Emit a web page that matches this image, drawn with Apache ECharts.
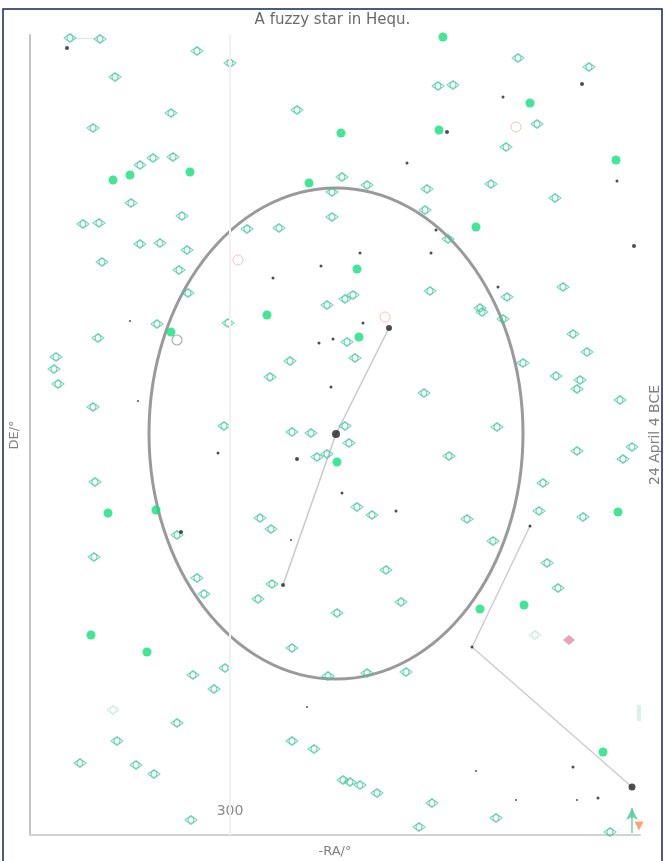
<!DOCTYPE html>
<html>
<head>
<meta charset="utf-8">
<title>A fuzzy star in Hequ.</title>
<script src="https://cdn.jsdelivr.net/npm/echarts@6/dist/echarts.min.js"></script>
<style>
  html, body { margin: 0; padding: 0; background: #ffffff; }
  #chart { width: 665px; height: 861px; }
</style>
</head>
<body>
<div id="chart"></div>
<script>
// Field stars around the guest star, plotted as [-RA, DE] in axis units.
const faintStars = [
  [140,797],[170,796],[267,784],[300,772],[185,758],[367,725],[241,722],[163,707],
  [210,670],[223,677],[243,678],[412,658],[201,632],[252,619],[153,611],[169,612],
  [402,618],[402,643],[210,591],[230,592],[257,585],[317,606],[349,607],[172,573],
  [249,565],[258,542],[397,530],[588,777],[659,768],[508,749],[523,750],[607,711],
  [576,688],[437,650],[497,646],[561,651],[625,637],[495,625],[518,596],[500,544],
  [577,538],[633,548],[415,536],[423,540],[550,527],[298,512],[227,511],[168,497],
  [126,478],[124,466],[128,451],[360,474],[340,458],[163,428],[294,409],[362,403],
  [381,402],[387,378],[397,381],[165,353],[330,317],[341,306],[247,300],[164,278],
  [267,257],[417,493],[425,477],[494,442],[552,523],[573,516],[643,501],[657,483],
  [593,472],[626,459],[650,455],[647,446],[690,435],[415,409],[567,408],[419,392],
  [702,388],[693,376],[647,384],[519,379],[613,352],[427,328],[442,320],[537,316],
  [609,324],[653,318],[563,294],[617,272],[456,265],[274,241],[342,251],[328,236],
  [407,222],[362,187],[295,167],[263,160],[284,146],[398,159],[247,112],[187,94],
  [362,94],[384,86],[150,72],[206,70],[224,61],[413,55],[261,15],[628,247],
  [471,233],[437,162],[476,163],[420,53],[430,50],[447,42],[502,32],[566,17],
  [489,8],[680,3]
];
const dimStars = [[605,200],[183,125]];
const brightStars = [
  [513,798],[600,732],[411,702],[509,705],[686,675],[183,655],[200,660],[260,663],
  [379,652],[546,608],[427,566],[337,520],[241,503],[429,498],[407,373],[178,322],
  [226,325],[688,323],[161,200],[217,183],[550,226],[594,230],[673,83]
];
// [-RA, DE, marker size]
const darkStars = [
  [137,787,4],[652,751,4],[573,738,3],[517,703,4],[477,672,3],[687,654,3],[506,605,3],
  [704,589,4],[430,582,3],[501,582,3],[391,569,3],[343,557,3],[568,548,3],[200,514,2],
  [433,512,3],[459,507,6],[403,496,3],[389,492,3],[401,448,3],[208,434,2],[406,401,8],
  [288,382,3],[367,376,4],[412,342,3],[466,324,3],[251,303,4],[361,295,2],[600,309,3],
  [353,250,4],[377,128,2],[546,64,2],[643,68,3],[702,48,7],[586,35,2],[647,35,2],
  [668,37,3],[542,188,3]
];
const pinkRings = [[455,518],[586,708],[308,575]];
const greyRings = [[247,495]];
const pinkStars = [[639,195]];
const orangeStars = [[709,9]];
const greenArrowShaft = [[702,2],[702,27]];
const greenArrowHead = [[702,27]];
const tealBar = [[709,122]];
// Asterism strokes
const lineA = [[459,507],[406,401],[353,250]];
const lineB = [[600,309],[542,188],[702,48]];
const lineC = [[140,797],[170,796]];
// Fuzzy halo: centre -RA, centre DE, half-width, half-height
const halo = [[406,401.5,187,245.5]];
const xTicks = [300];

const diamondPath = 'path://M0,-5L7,0L0,5L-7,0Z M-3.4,0A3.4,3.4,0,1,0,3.4,0A3.4,3.4,0,1,0,-3.4,0Z';
const teal = '#3fc79e';
const bright = '#12e07c';

const chart = echarts.init(document.getElementById('chart'), null, { renderer: 'canvas' });

function strokeLine(data, color, width) {
  return {
    type: 'line', data: data, symbol: 'none', silent: true, z: 1,
    lineStyle: { color: color, width: width }, animation: false
  };
}

chart.setOption({
  animation: false,
  backgroundColor: '#ffffff',
  title: {
    text: 'A fuzzy star in Hequ.',
    left: 'center', top: 8,
    textStyle: { color: '#6a6a6a', fontSize: 15, fontWeight: 'normal', fontFamily: 'DejaVu Sans' }
  },
  graphic: [{
    type: 'rect', silent: true, z: 100,
    shape: { x: 3, y: 9, width: 659, height: 880 },
    style: { fill: 'none', stroke: '#16235e', lineWidth: 1.5 }
  }],
  grid: { left: 30, right: 25, top: 35, bottom: 26, outerBoundsMode: 'none' },
  xAxis: [{
    type: 'value', min: 100, max: 710, interval: 100, position: 'bottom',
    name: '-RA/°', nameLocation: 'middle', nameGap: 10,
    nameTextStyle: { color: '#808080', fontSize: 13, fontFamily: 'DejaVu Sans' },
    axisLine: { show: false }, axisTick: { show: false }, splitLine: { show: false },
    axisLabel: {
      inside: true, margin: 17, color: '#8a8a8a', fontSize: 14, fontFamily: 'DejaVu Sans',
      formatter: function (v) { return xTicks.indexOf(v) >= 0 ? String(v) : ''; }
    }
  }, {
    type: 'value', min: 100, max: 710, position: 'top',
    axisLine: { show: true, lineStyle: { color: '#d2d2d2', width: 2 } },
    axisTick: { show: false }, axisLabel: { show: false }, splitLine: { show: false }
  }],
  yAxis: [{
    type: 'value', min: 0, max: 800, position: 'left',
    name: 'DE/°', nameLocation: 'middle', nameGap: 9,
    nameTextStyle: { color: '#808080', fontSize: 13, fontFamily: 'DejaVu Sans' },
    axisLine: { show: true, lineStyle: { color: '#c4c4c4', width: 2 } },
    axisTick: { show: false }, axisLabel: { show: false }, splitLine: { show: false }
  }, {
    type: 'value', min: 0, max: 800, position: 'right',
    name: '24 April 4 BCE', nameLocation: 'middle', nameGap: 8, nameRotate: 90,
    nameTextStyle: { color: '#808080', fontSize: 14, fontFamily: 'DejaVu Sans' },
    axisLine: { show: false }, axisTick: { show: false }, axisLabel: { show: false },
    splitLine: { show: false }
  }],
  series: [
    {
      type: 'custom', silent: true, z: 1, clip: false,
      data: halo,
      renderItem: function (params, api) {
        const c = api.coord([api.value(0), api.value(1)]);
        const s = api.size([api.value(2), api.value(3)]);
        return {
          type: 'ellipse',
          shape: { cx: c[0], cy: c[1], rx: s[0], ry: s[1] },
          style: { fill: 'none', stroke: '#9a9a9a', lineWidth: 3 }
        };
      },
      markLine: {
        silent: true, symbol: 'none', label: { show: false },
        lineStyle: { color: '#f1f1f1', width: 2, type: 'solid' },
        data: [{ xAxis: xTicks[0] }]
      }
    },
    strokeLine(lineA, '#c9c9c9', 1.5),
    strokeLine(lineB, '#cdcdcd', 1.5),
    strokeLine(lineC, '#cfe9df', 1),
    strokeLine(greenArrowShaft, '#4fc79a', 1.2),
    {
      type: 'scatter', data: faintStars, symbol: diamondPath, symbolSize: [12, 9],
      silent: true, z: 3,
      itemStyle: { color: 'rgba(255,255,255,0)', borderColor: teal, borderWidth: 1 }
    },
    {
      type: 'scatter', data: dimStars, symbol: diamondPath, symbolSize: [12, 9],
      silent: true, z: 3,
      itemStyle: { color: 'rgba(255,255,255,0)', borderColor: '#bfe8d8', borderWidth: 1 }
    },
    {
      type: 'scatter', data: tealBar, symbol: 'rect', symbolSize: [4, 16],
      silent: true, z: 3, itemStyle: { color: '#d3eee4' }
    },
    {
      type: 'scatter', data: brightStars, symbol: 'circle', symbolSize: 9,
      silent: true, z: 4, itemStyle: { color: bright }
    },
    {
      type: 'scatter', data: darkStars, symbol: 'circle',
      symbolSize: function (v) { return v[2]; },
      silent: true, z: 5, itemStyle: { color: '#222222' }
    },
    {
      type: 'scatter', data: pinkRings, symbol: 'circle', symbolSize: 10,
      silent: true, z: 4,
      itemStyle: { color: 'rgba(255,255,255,0)', borderColor: '#f3b3b3', borderWidth: 1 }
    },
    {
      type: 'scatter', data: greyRings, symbol: 'circle', symbolSize: 10,
      silent: true, z: 4,
      itemStyle: { color: 'rgba(255,255,255,0)', borderColor: '#9a9a9a', borderWidth: 1.2 }
    },
    {
      type: 'scatter', data: pinkStars, symbol: 'diamond', symbolSize: [12, 10],
      silent: true, z: 4, itemStyle: { color: '#e58aa8' }
    },
    {
      type: 'scatter', data: orangeStars, symbol: 'triangle', symbolRotate: 180, symbolSize: 9,
      silent: true, z: 4, itemStyle: { color: '#ff8a50' }
    },
    {
      type: 'scatter', data: greenArrowHead, symbol: 'arrow', symbolSize: [9, 12],
      silent: true, z: 4, itemStyle: { color: '#4fc79a' }
    }
  ]
});
</script>
</body>
</html>
